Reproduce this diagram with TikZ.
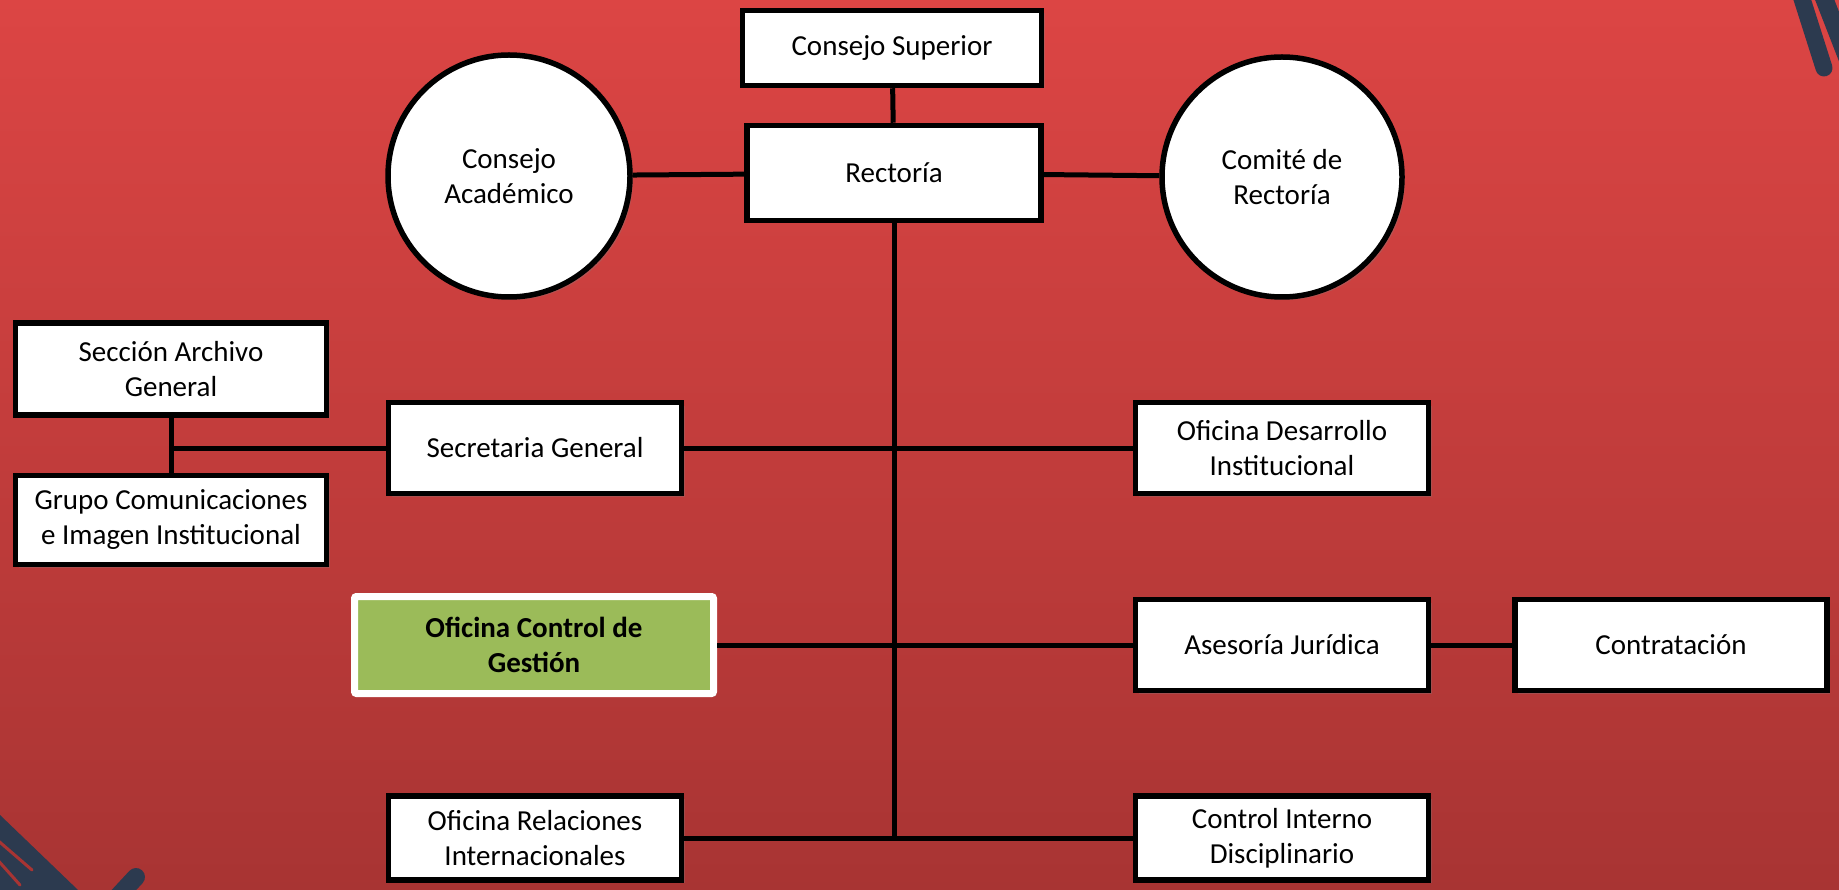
\documentclass[tikz,border=0pt]{standalone}
\usepackage{fontspec}
\setmainfont{Carlito}
\usetikzlibrary{shadows}

\definecolor{bgtop}{RGB}{220,69,68}
\definecolor{bgbot}{RGB}{168,52,51}
\definecolor{navy}{RGB}{44,58,79}
\definecolor{ctrlgreen}{RGB}{155,187,89}

\begin{document}
\begin{tikzpicture}[x=1pt, y=-1pt,
    unit/.style={draw=black, line width=5.5pt, fill=white, rectangle, align=center,
        inner sep=0pt, minimum width=293pt, minimum height=91pt,
        font=\fontsize{29}{35}\selectfont,
        drop shadow={shadow xshift=3pt, shadow yshift=-3pt, opacity=.3}},
    council/.style={unit, circle, minimum size=240pt},
    ctrl/.style={unit, fill=ctrlgreen, draw=white, line width=7pt,
        rounded corners=2pt, minimum width=359pt, minimum height=97pt,
        font=\fontsize{29}{35}\selectfont\bfseries},
    link/.style={line width=5pt, black}]

    % background
    \useasboundingbox (0,0) rectangle (1839,890);
    \shade[top color=bgtop, bottom color=bgbot] (0,0) rectangle (1839,890);

    % corner pens
    \draw[navy, line width=17pt, line cap=round] (1796,-20) -- (1824,68);
    \draw[navy, line width=18pt, line cap=round] (1817,-20) -- (1852,70);
    \fill[navy] (0,815) -- (78,890) -- (0,890) -- cycle;
    \draw[bgbot, line width=3pt, line cap=round] (-5,838) -- (32,870);
    \draw[bgbot, line width=3pt, line cap=round] (-5,857) -- (20,885);
    \draw[navy, line width=18pt, line cap=round] (136,877) -- (110,905);

    % units
    \node[unit, minimum width=299pt, minimum height=75pt] (sup) at (892,48) {Consejo Superior};
    \node[unit, minimum width=294pt, minimum height=95pt] (rec) at (894,173) {Rectoría};
    \node[council, minimum size=242pt] (ca) at (509,176) {Consejo\\Académico};
    \node[council] (cr) at (1282,177) {Comité de\\Rectoría};

    \node[unit, minimum width=311pt, minimum height=92pt] (sag) at (171,369) {Sección Archivo\\General};
    \node[unit, minimum width=311pt, minimum height=89pt] (gci) at (171,520) {Grupo Comunicaciones\\e Imagen Institucional};
    \node[unit] (sg) at (535,448) {Secretaria General};
    \node[unit] (odi) at (1282,448) {Oficina Desarrollo\\Institucional};

    \node[ctrl] (ocg) at (534,645) {Oficina Control de\\Gestión};
    \node[unit] (aj) at (1282,645) {Asesoría Jurídica};
    \node[unit, minimum width=312pt] (con) at (1671,645) {Contratación};

    \node[unit, minimum height=84pt] (ori) at (535,838) {Oficina Relaciones\\Internacionales};
    \node[unit, minimum height=84pt] (cid) at (1282,838) {Control Interno\\Disciplinario};

    \coordinate (foot) at (894,840);

    % links
    \draw[link] (sup) -- (rec);
    \draw[link] (ca) -- (rec);
    \draw[link] (rec) -- (cr);
    \draw[link] (rec) -- (foot);
    \draw[link] (sg) -- (odi);
    \draw[link] (sag) -- (gci);
    \draw[link] (sg.west) -- (sg.west -| sag.south);
    \draw[link] (ocg) -- (aj);
    \draw[link] (aj) -- (con);
    \draw[link] (ori) -- (cid);
\end{tikzpicture}
\end{document}
